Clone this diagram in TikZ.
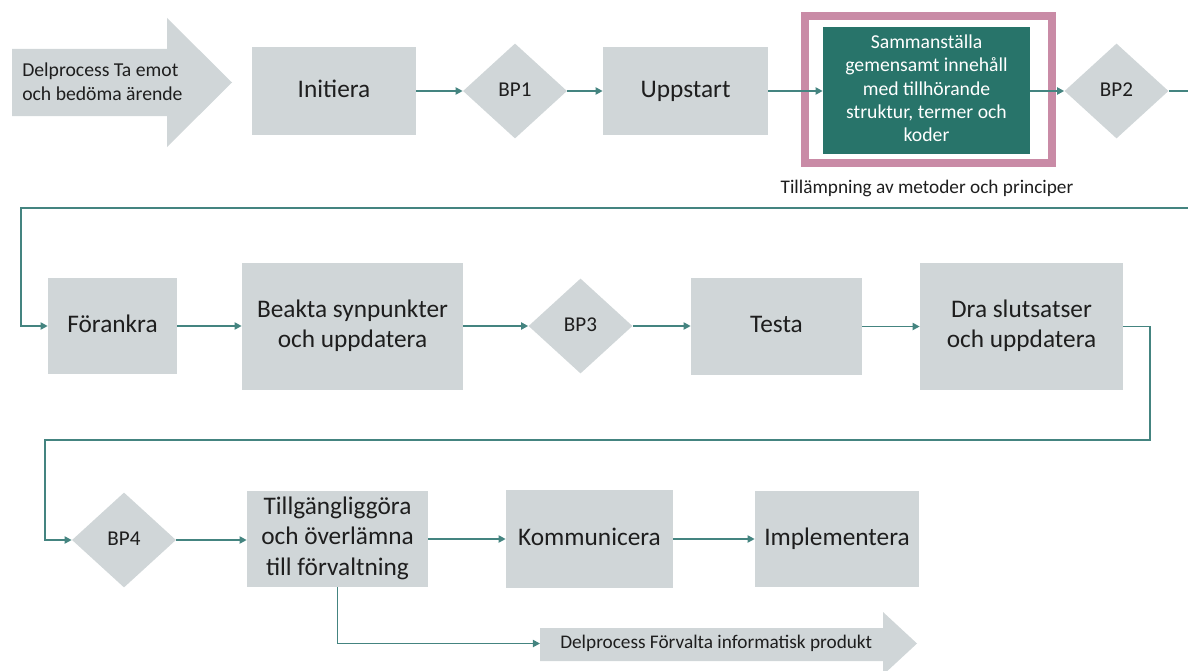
\documentclass[tikz,border=0pt]{standalone}
\usepackage{fontspec}
\setmainfont{Carlito}
\usetikzlibrary{shapes.geometric,arrows.meta}
\definecolor{boxgray}{RGB}{208,214,216}
\definecolor{flowteal}{RGB}{68,132,128}
\definecolor{darkteal}{RGB}{40,116,106}
\definecolor{framepink}{RGB}{201,139,166}
\definecolor{inktext}{RGB}{30,30,30}
\newcommand\boxstrut{\rule[-.2\baselineskip]{0pt}{.8\baselineskip}}

\begin{document}
\begin{tikzpicture}[x=.025cm,y=-.025cm,
	box/.style={fill=boxgray,inner sep=0pt,align=center,text=inktext,font=\fontsize{18}{21.5}\selectfont,
		execute at begin node=\boxstrut,execute at end node=\boxstrut},
	bp/.style={diamond,fill=boxgray,inner sep=0pt,minimum width=2.6cm,minimum height=2.375cm,text=inktext,font=\fontsize{15}{18}\selectfont,
		execute at begin node=\strut},
	flow/.style={flowteal,line width=1.4pt,-{Triangle[length=5pt,width=5pt]}},
	bigarrow/.style={fill=boxgray},
	note/.style={inner sep=0pt,text=inktext,font=\fontsize{14}{16.8}\selectfont,
		execute at begin node=\strut,execute at end node=\strut}]
	\useasboundingbox (0,0) rectangle (1188,670);
	\clip (0,0) rectangle (1188,670);
	\fill[bigarrow] (12,49) -- (167,49) -- (167,18) -- (232,82.5) -- (167,147) -- (167,116) -- (12,116) -- cycle;
	\node[note,anchor=west,align=left] (start) at (22,85) {Delprocess Ta emot\\och bedöma ärende};
	\node[box,minimum width=4.1cm,minimum height=2.2cm] (init) at (334,91) {Initiera};
	\node[bp] (bp1) at (515,91) {BP1};
	\node[box,minimum width=4.125cm,minimum height=2.2cm] (upp) at (685.5,91) {Uppstart};
	\draw[framepink,line width=5.7pt] (805,16) rectangle (1052,163);
	\node[box,fill=darkteal,text=white,font=\fontsize{14}{16.6}\selectfont,minimum width=5.175cm,minimum height=3.175cm] (samm) at (926.5,90.5) {Sammanställa\\gemensamt innehåll\\med tillhörande\\struktur, termer och\\koder};
	\node[note,font=\fontsize{13.7}{16.5}\selectfont] (caption) at (927,189) {Tillämpning av metoder och principer};
	\node[bp] (bp2) at (1116.5,91) {BP2};

	\node[box,minimum width=3.225cm,minimum height=2.4cm] (foer) at (112.5,326) {Förankra};
	\node[box,minimum width=5.525cm,minimum height=3.175cm] (beakta) at (352.5,326.5) {Beakta synpunkter\\och uppdatera};
	\node[bp] (bp3) at (580.5,326) {BP3};
	\node[box,minimum width=4.275cm,minimum height=2.425cm] (testa) at (776.5,326.5) {Testa};
	\node[box,minimum width=5.075cm,minimum height=3.175cm] (dra) at (1021.5,326.5) {Dra slutsatser\\och uppdatera};

	\node[bp] (bp4) at (124,540) {BP4};
	\node[box,minimum width=4.525cm,minimum height=2.4cm] (tillg) at (337.5,539) {Tillgängliggöra\\och överlämna\\till förvaltning};
	\node[box,minimum width=4.175cm,minimum height=2.425cm] (komm) at (589.5,539) {Kommunicera};
	\node[box,minimum width=4.1cm,minimum height=2.375cm] (impl) at (837,539) {Implementera};
	\fill[bigarrow] (540,628) -- (883,628) -- (883,612) -- (917,643.5) -- (883,675) -- (883,661) -- (540,661) -- cycle;
	\node[note,anchor=west,font=\fontsize{13.7}{16.5}\selectfont] (prod) at (560,644) {Delprocess Förvalta informatisk produkt};
	\coordinate (prodin) at (540,643.5);

	\draw[flow] (init) -- (bp1);
	\draw[flow] (bp1) -- (upp);
	\draw[flow] (upp.east) -- (upp.east -| samm.west);
	\draw[flow] (samm.east |- bp2) -- (bp2);
	\draw[flow] (bp2.east) -- ++(40,0) |- (21,208) |- (foer.west);
	\draw[flow] (foer.east) -- (foer.east -| beakta.west);
	\draw[flow] (beakta.east |- bp3) -- (bp3);
	\draw[flow] (bp3) -- (bp3 -| testa.west);
	\draw[flow] (testa.east) -- (testa.east -| dra.west);
	\draw[flow] (dra.east) -- (1150,326.5) |- (45,440) |- (bp4.west);
	\draw[flow] (bp4) -- (bp4 -| tillg.west);
	\draw[flow] (tillg) -- (komm);
	\draw[flow] (komm) -- (impl);
	\draw[flow] (tillg.south) |- (prodin);
\end{tikzpicture}
\end{document}
